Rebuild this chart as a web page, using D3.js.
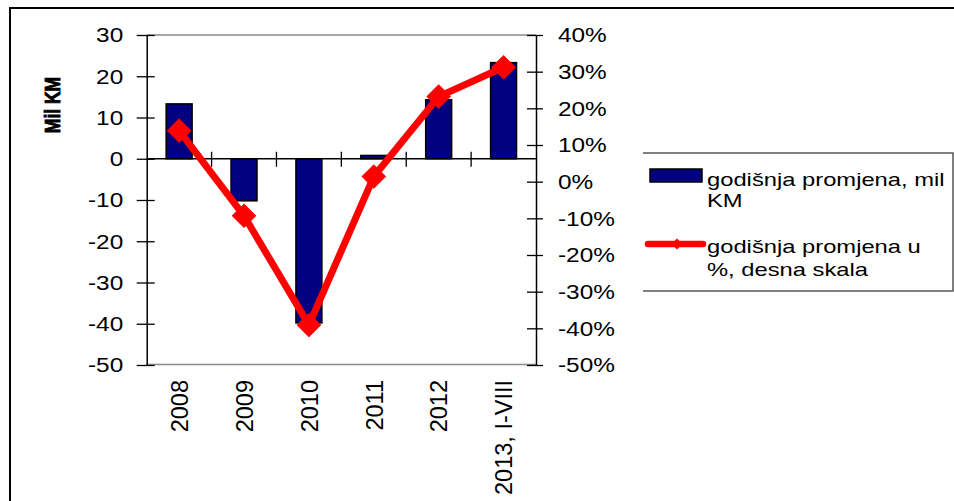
<!DOCTYPE html>
<html><head><meta charset="utf-8">
<script src="https://cdn.jsdelivr.net/npm/d3@7"></script>
<style>body{margin:0;background:#fff}svg{display:block}text{font-family:"Liberation Sans",Arial,sans-serif;fill:#000}</style>
</head><body>
<script>
const categories = ["2008","2009","2010","2011","2012","2013, I-VIII"];
const changeMilKM = [13.3, -10.2, -39.8, 0.8, 14.3, 23.3];
const changePct = [0.139, -0.093, -0.391, 0.014, 0.232, 0.312];
const leftTicks = [30,20,10,0,-10,-20,-30,-40,-50];
const rightTicks = [0.4,0.3,0.2,0.1,0,-0.1,-0.2,-0.3,-0.4,-0.5];
const legendLabels = [["godišnja promjena, mil","KM"],["godišnja promjena u","%, desna skala"]];
const yTitle = "Mil KM";

const W=954,H=501;
const svg=d3.select("body").append("svg").attr("width",W).attr("height",H);
const L=146.7,R=536,T=35,B=365;
const x=d3.scaleBand().domain(categories).range([L,R]);
const yL=d3.scaleLinear().domain([-50,30]).range([B,T]);
const yR=d3.scaleLinear().domain([-0.5,0.4]).range([B,T]);
const hy=f=>d=>f(d).replace("\u2212","-");

// outer frame
svg.append("path").attr("d",`M10,${H} L10,8 L${W},8`).attr("fill","none").attr("stroke","#000").attr("stroke-width",2);

// plot area border (gray)
svg.append("line").attr("x1",L).attr("x2",R).attr("y1",T).attr("y2",T).attr("stroke","#8a8a8a").attr("stroke-width",1.5);
svg.append("line").attr("x1",L).attr("x2",R).attr("y1",B-0.5).attr("y2",B-0.5).attr("stroke","#8a8a8a").attr("stroke-width",1.5);

// bars
const bw=x.bandwidth()*0.4;
svg.append("g").selectAll("rect").data(categories).join("rect")
 .attr("x",d=>x(d)+(x.bandwidth()-bw)/2)
 .attr("y",(d,i)=>Math.min(yL(changeMilKM[i]),yL(0)))
 .attr("width",bw)
 .attr("height",(d,i)=>Math.abs(yL(changeMilKM[i])-yL(0)))
 .attr("fill","#000080").attr("stroke","#000").attr("stroke-width",1.5);

// zero category axis
const z=yL(0);
svg.append("line").attr("x1",L).attr("x2",R).attr("y1",z).attr("y2",z).attr("stroke","#000").attr("stroke-width",1.3);
svg.append("g").selectAll("line").data(categories.slice(1)).join("line")
 .attr("x1",d=>x(d)).attr("x2",d=>x(d)).attr("y1",z-7).attr("y2",z+8)
 .attr("stroke","#000").attr("stroke-width",1.3);

// left axis
const gL=svg.append("g").attr("transform",`translate(${L},0)`)
 .call(d3.axisLeft(yL).tickValues(leftTicks).tickFormat(hy(d3.format("d"))).tickSizeOuter(0));
gL.select(".domain").attr("stroke","#000").attr("stroke-width",1.5);
gL.selectAll(".tick line").attr("x1",-10).attr("x2",8).attr("stroke","#000").attr("stroke-width",1.3);
gL.selectAll(".tick text").attr("x",null).attr("dy","0.35em")
 .attr("transform","translate(-23.5,0) scale(1.25,1)")
 .style("font-size","19.5px").style("font-family","'Liberation Sans',Arial,sans-serif").attr("fill","#000");

// right axis
const gR=svg.append("g").attr("transform",`translate(${R},0)`)
 .call(d3.axisRight(yR).tickValues(rightTicks).tickFormat(hy(d3.format(".0%"))).tickSizeOuter(0));
gR.select(".domain").attr("stroke","#000").attr("stroke-width",1.5);
gR.selectAll(".tick line").attr("x1",-9).attr("x2",7).attr("stroke","#000").attr("stroke-width",1.3);
gR.selectAll(".tick text").attr("x",null).attr("dy","0.35em")
 .attr("transform","translate(22,0) scale(1.25,1)")
 .style("font-size","19.5px").style("font-family","'Liberation Sans',Arial,sans-serif").attr("fill","#000");

// x labels
svg.append("g").selectAll("text").data(categories).join("text")
 .attr("transform",d=>`translate(${x(d)+x.bandwidth()/2+0.5},380) rotate(-90)`)
 .attr("text-anchor","end").attr("dy","0.35em").style("font-size","23.5px").text(d=>d);

// y title
svg.append("text").attr("transform","translate(52.5,105) rotate(-90) scale(1,1.3)")
 .attr("text-anchor","middle").attr("dy","0.35em").style("font-size","17.5px").style("font-weight","bold")
 .attr("stroke","#000").attr("stroke-width",0.7).text(yTitle);

// line
const cx=d=>x(d)+x.bandwidth()/2;
const line=d3.line().x((d,i)=>cx(categories[i])).y(d=>yR(d));
svg.append("path").datum(changePct).attr("d",line).attr("fill","none")
 .attr("stroke","#ff0000").attr("stroke-width",7).attr("stroke-linejoin","round");
const sym=d3.symbol().type(d3.symbolSquare).size(270);
svg.append("g").selectAll("path").data(changePct).join("path")
 .attr("transform",(d,i)=>`translate(${cx(categories[i])},${yR(d)}) rotate(45)`)
 .attr("d",sym).attr("fill","#ff0000").attr("stroke","#ff0000").attr("stroke-width",1);

// legend
svg.append("path").attr("d","M643,153 L953,153 L953,291 L643,291").attr("fill","none").attr("stroke","#555").attr("stroke-width",1.5);
svg.append("rect").attr("x",650).attr("y",169).attr("width",52).attr("height",13)
 .attr("fill","#000080").attr("stroke","#000").attr("stroke-width",1.5);
svg.append("line").attr("x1",648).attr("x2",703).attr("y1",244).attr("y2",244)
 .attr("stroke","#ff0000").attr("stroke-width",6.5).attr("stroke-linecap","round");
svg.append("path").attr("transform","translate(677,244) rotate(45)").attr("d",d3.symbol().type(d3.symbolSquare).size(60)())
 .attr("fill","#ff0000");
const lgBase=[[186,207],[253,276]];
legendLabels.forEach((lines,k)=>{
 lines.forEach((t,j)=>{
  svg.append("text").attr("transform",`translate(707,${lgBase[k][j]}) scale(1.25,1)`)
   .style("font-size","19px").text(t);
 });
});
</script>
</body></html>
